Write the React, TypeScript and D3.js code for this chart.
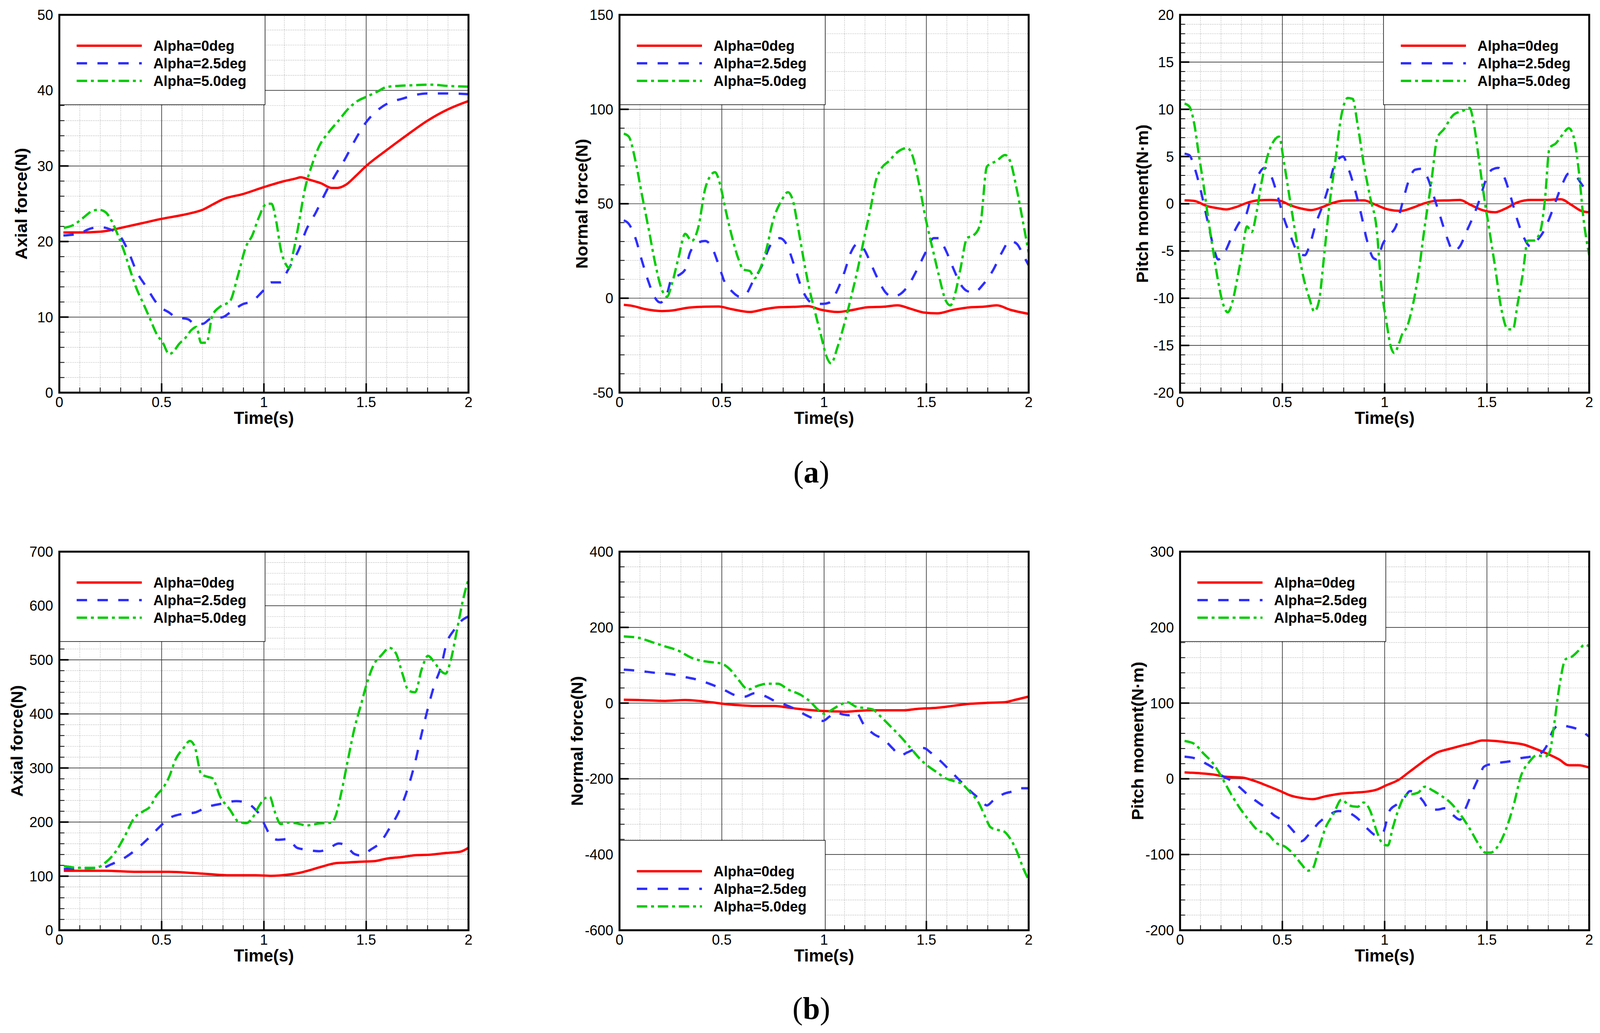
import React from "react";
import * as d3 from "d3";

type Pt = [number, number];

// ---------- shared labels / ticks ----------
const xTicks = [0, 0.5, 1, 1.5, 2];
const seriesNames = ["Alpha=0deg", "Alpha=2.5deg", "Alpha=5.0deg"];
const seriesColors = ["#ff0000", "#2e2eff", "#00cc00"];
const seriesDash = ["none", "27 27", "27 10 7.5 10"];

const axialTopTicks = [0, 10, 20, 30, 40, 50];
const normalTopTicks = [-50, 0, 50, 100, 150];
const pitchTopTicks = [-20, -15, -10, -5, 0, 5, 10, 15, 20];
const axialBotTicks = [0, 100, 200, 300, 400, 500, 600, 700];
const normalBotTicks = [-600, -400, -200, 0, 200, 400];
const pitchBotTicks = [-200, -100, 0, 100, 200, 300];

// ---------- (a) Axial force ----------
const axialTop0: Pt[] = [[0.02,21.2],[0.1,21.2],[0.2,21.3],[0.25,21.5],[0.3,21.8],[0.4,22.4],[0.5,23.0],[0.6,23.5],[0.65,23.8],[0.7,24.2],[0.75,24.9],[0.8,25.6],[0.9,26.3],[1.0,27.2],[1.1,28.0],[1.15,28.3],[1.18,28.5],[1.22,28.2],[1.28,27.7],[1.33,27.1],[1.36,27.1],[1.4,27.5],[1.45,28.7],[1.5,30.0],[1.6,32.1],[1.7,34.1],[1.8,36.0],[1.9,37.5],[2.0,38.6]];
const axialTop25: Pt[] = [[0.02,20.8],[0.1,21.1],[0.15,21.7],[0.2,21.9],[0.25,21.6],[0.3,20.6],[0.334,18.9],[0.38,15.9],[0.42,14.2],[0.49,11.4],[0.537,10.6],[0.568,10.0],[0.63,9.7],[0.662,9.1],[0.7,9.1],[0.74,9.8],[0.8,10.0],[0.834,10.6],[0.896,11.7],[0.943,12.1],[0.99,13.3],[1.037,14.6],[1.083,14.6],[1.115,16.1],[1.138,17.2],[1.17,18.9],[1.208,21.6],[1.255,23.9],[1.302,26.5],[1.349,28.8],[1.396,30.9],[1.443,33.3],[1.5,35.8],[1.552,37.3],[1.614,38.4],[1.677,38.9],[1.739,39.4],[1.802,39.6],[1.895,39.6],[2.0,39.5]];
const axialTop50: Pt[] = [[0.022,21.8],[0.07,22.2],[0.115,23.1],[0.162,24.05],[0.194,24.2],[0.225,23.9],[0.256,22.7],[0.287,20.8],[0.318,18.6],[0.35,15.9],[0.38,13.6],[0.412,11.7],[0.443,9.8],[0.475,7.8],[0.506,6.6],[0.537,5.1],[0.56,5.5],[0.584,6.4],[0.615,7.2],[0.646,8.3],[0.67,8.7],[0.693,6.6],[0.72,6.6],[0.748,10.2],[0.787,11.4],[0.834,12.1],[0.873,15.5],[0.912,19.3],[0.943,20.8],[0.974,23.1],[1.013,25.0],[1.037,25.0],[1.06,22.7],[1.083,18.9],[1.107,17.0],[1.123,16.5],[1.146,18.9],[1.17,22.3],[1.2,26.9],[1.232,29.9],[1.27,32.6],[1.318,34.5],[1.365,36.0],[1.41,37.5],[1.458,38.6],[1.505,39.2],[1.552,39.8],[1.6,40.45],[1.66,40.6],[1.74,40.7],[1.817,40.76],[1.895,40.6],[2.0,40.5]];

// ---------- (a) Normal force ----------
const normalTop0: Pt[] = [[0.021,-3.5],[0.06,-4],[0.126,-5.8],[0.207,-6.8],[0.256,-6.5],[0.337,-5],[0.418,-4.5],[0.483,-4.4],[0.548,-5.8],[0.637,-7.3],[0.71,-5.8],[0.775,-4.8],[0.872,-4.5],[0.92,-4.2],[0.985,-6.1],[1.066,-7.3],[1.131,-6.4],[1.212,-4.8],[1.293,-4.5],[1.358,-3.8],[1.423,-5.6],[1.488,-7.6],[1.553,-8.0],[1.634,-6.1],[1.715,-4.8],[1.78,-4.5],[1.844,-3.8],[1.909,-6.1],[2.0,-8.3]];
const normalTop25: Pt[] = [[0.021,41.2],[0.045,39.4],[0.078,31.8],[0.11,19.7],[0.143,8.3],[0.167,1.5],[0.2,-2.3],[0.232,2.3],[0.256,10.6],[0.288,12.1],[0.321,15.2],[0.345,24.2],[0.386,29.5],[0.418,30.3],[0.45,27.3],[0.483,18.2],[0.515,8.3],[0.548,3.8],[0.588,0.8],[0.613,1.5],[0.653,9],[0.694,16.7],[0.742,28.8],[0.783,31.8],[0.815,28.8],[0.856,16.7],[0.888,6],[0.921,-0.8],[0.953,-3],[0.994,-3],[1.026,-2.3],[1.066,4.5],[1.099,13.6],[1.131,24.2],[1.164,28.8],[1.196,25.8],[1.229,18.2],[1.261,10.6],[1.301,3],[1.334,0.8],[1.374,2.3],[1.407,6],[1.455,15.2],[1.496,24.2],[1.536,31.8],[1.561,31.8],[1.593,25.8],[1.634,15.2],[1.666,7.6],[1.699,3.8],[1.731,3],[1.78,7.6],[1.828,15.2],[1.869,24.2],[1.909,30.3],[1.942,28.8],[1.974,22.7],[2.0,17.4]];
const normalTop50: Pt[] = [[0.021,87.1],[0.045,85.6],[0.078,72.7],[0.11,54.5],[0.143,36.4],[0.175,18.2],[0.207,4.5],[0.232,0.8],[0.256,7.6],[0.288,21.2],[0.321,34.1],[0.353,30.3],[0.386,37.9],[0.418,57.6],[0.442,64.4],[0.467,66.7],[0.491,60.6],[0.515,48.5],[0.548,33.3],[0.58,21.2],[0.605,15.2],[0.637,14.4],[0.661,10.6],[0.686,15.2],[0.718,25.8],[0.75,40.9],[0.791,51.5],[0.823,56.1],[0.848,51.5],[0.872,37.9],[0.904,18.2],[0.929,4.5],[0.953,-6.1],[0.985,-19.7],[1.01,-30.3],[1.034,-34.5],[1.066,-25.8],[1.099,-13.6],[1.131,0],[1.164,15.2],[1.196,31.8],[1.229,48.5],[1.253,62.1],[1.277,68.2],[1.318,72.7],[1.358,77.3],[1.407,79.5],[1.431,75.8],[1.464,60.6],[1.496,42.4],[1.528,27.3],[1.561,12.1],[1.593,-0.8],[1.617,-3.8],[1.642,3],[1.666,15.2],[1.699,31.8],[1.731,33.3],[1.764,39.4],[1.796,69.7],[1.844,72.7],[1.885,75.8],[1.909,72.7],[1.942,57.6],[1.974,39.4],[2.0,24.2]];

// ---------- (a) Pitch moment ----------
const pitchTop0: Pt[] = [[0.022,0.36],[0.069,0.3],[0.131,-0.24],[0.178,-0.45],[0.225,-0.6],[0.272,-0.36],[0.335,0.15],[0.382,0.36],[0.444,0.4],[0.491,0.3],[0.538,-0.15],[0.601,-0.55],[0.64,-0.67],[0.695,-0.36],[0.742,0.06],[0.804,0.33],[0.898,0.36],[0.945,0],[1.008,-0.55],[1.078,-0.76],[1.133,-0.45],[1.196,0.06],[1.258,0.33],[1.321,0.36],[1.368,0.4],[1.415,-0.06],[1.477,-0.67],[1.54,-0.9],[1.587,-0.55],[1.65,0.15],[1.712,0.4],[1.79,0.4],[1.861,0.48],[1.915,-0.15],[1.962,-0.76],[2.0,-0.9]];
const pitchTop25: Pt[] = [[0.022,5.3],[0.045,5.15],[0.069,3.94],[0.1,1.5],[0.131,-1.5],[0.163,-4.5],[0.186,-5.9],[0.218,-5.15],[0.257,-3.3],[0.296,-1.8],[0.319,-1.36],[0.35,0.9],[0.382,3.0],[0.413,3.8],[0.444,3.0],[0.476,0.9],[0.507,-1.5],[0.538,-3.3],[0.577,-5.15],[0.609,-5.45],[0.632,-4.5],[0.664,-2.1],[0.695,-0.3],[0.726,1.8],[0.757,4.2],[0.797,5.0],[0.82,3.9],[0.851,1.8],[0.883,-0.9],[0.914,-3.9],[0.945,-5.75],[0.961,-5.9],[0.992,-4.2],[1.023,-3.3],[1.055,-2.4],[1.086,0],[1.117,2.4],[1.149,3.6],[1.18,3.7],[1.211,2.7],[1.243,0.6],[1.274,-1.5],[1.305,-3.6],[1.336,-5.0],[1.368,-4.5],[1.399,-3.0],[1.43,-1.5],[1.462,0.3],[1.493,2.4],[1.524,3.6],[1.556,3.8],[1.587,2.7],[1.618,0.6],[1.65,-1.8],[1.681,-3.6],[1.712,-4.5],[1.744,-3.9],[1.775,-3.0],[1.806,-1.5],[1.837,0.3],[1.869,2.1],[1.9,3.2],[1.931,3.0],[1.962,2.1],[2.0,0.9]];
const pitchTop50: Pt[] = [[0.022,10.6],[0.045,10.3],[0.069,8.5],[0.092,5.15],[0.116,1.8],[0.139,-1.8],[0.163,-5.15],[0.186,-8.2],[0.21,-10.6],[0.233,-11.5],[0.257,-10.3],[0.28,-7.9],[0.304,-5.15],[0.327,-2.4],[0.35,-3.0],[0.374,-0.9],[0.397,2.1],[0.429,5.15],[0.46,6.7],[0.484,7.1],[0.507,4.5],[0.538,0.3],[0.57,-3.9],[0.601,-7.6],[0.632,-10],[0.656,-11.4],[0.679,-10.3],[0.703,-5.75],[0.726,-0.9],[0.757,4.2],[0.789,9.4],[0.82,11.2],[0.844,11.1],[0.867,8.5],[0.898,4.2],[0.93,0.6],[0.961,-2.7],[0.984,-8.8],[1.008,-12.4],[1.031,-15.2],[1.047,-15.8],[1.07,-14.8],[1.086,-13.8],[1.11,-13],[1.133,-11.2],[1.164,-7.6],[1.196,-2.4],[1.227,2.1],[1.258,7.0],[1.29,7.9],[1.336,9.4],[1.383,9.85],[1.415,10.15],[1.438,8.2],[1.462,4.5],[1.485,0.9],[1.509,-2.4],[1.54,-6.7],[1.571,-11.2],[1.603,-13.3],[1.627,-13.3],[1.65,-10.6],[1.674,-7.6],[1.7,-3.9],[1.73,-3.9],[1.76,-3.0],[1.783,0.3],[1.806,5.9],[1.837,6.4],[1.869,7.3],[1.9,8.0],[1.925,7.0],[1.95,3.3],[1.97,-1.2],[2.0,-5.45]];

// ---------- (b) Axial force ----------
const axialBot0: Pt[] = [[0.022,110],[0.1,110],[0.225,110],[0.365,108],[0.537,108],[0.646,106],[0.724,104],[0.834,101.7],[0.959,101.7],[1.037,100.6],[1.115,102.7],[1.177,106.4],[1.24,112.8],[1.302,119.7],[1.349,123.9],[1.396,125],[1.458,126.5],[1.536,127.6],[1.6,132.4],[1.677,135.5],[1.739,138.7],[1.817,139.8],[1.895,143],[1.958,145],[2.0,152.5]];
const axialBot25: Pt[] = [[0.022,113.3],[0.1,114.4],[0.209,115.4],[0.256,122.3],[0.303,130.3],[0.365,146.1],[0.428,167.3],[0.49,191.1],[0.537,207],[0.6,215],[0.662,217.6],[0.724,228.2],[0.787,233.5],[0.865,238.8],[0.912,236.2],[0.959,222.9],[0.982,212.3],[1.005,193.8],[1.037,172.6],[1.068,167.3],[1.115,168.4],[1.162,152.5],[1.208,148.8],[1.271,146.1],[1.318,151.4],[1.365,160.4],[1.396,157.8],[1.443,140.8],[1.474,138.2],[1.521,148.8],[1.568,162],[1.614,188.5],[1.661,220.3],[1.708,268],[1.739,310.3],[1.771,363.2],[1.802,410.9],[1.833,453.2],[1.864,485],[1.895,532.7],[1.927,553.8],[1.966,572.4],[2.0,580.3]];
const axialBot50: Pt[] = [[0.022,118.6],[0.1,115.4],[0.178,115.4],[0.225,125],[0.272,143.5],[0.318,172.6],[0.365,207],[0.412,220.3],[0.443,228.2],[0.475,249.4],[0.506,262.6],[0.537,283.8],[0.568,315.6],[0.607,336.8],[0.638,350],[0.662,339.4],[0.693,289.1],[0.724,283.8],[0.748,281.2],[0.787,246.7],[0.834,222.9],[0.873,201.7],[0.912,198],[0.943,207],[0.974,228.2],[1.005,244.1],[1.029,246.7],[1.052,220.3],[1.083,196.4],[1.115,199.1],[1.162,197.5],[1.208,193.8],[1.271,197.5],[1.333,199.1],[1.349,209.7],[1.38,257.3],[1.411,315.6],[1.443,373.8],[1.474,416.2],[1.505,458.5],[1.536,490.3],[1.575,508.8],[1.614,522.1],[1.646,511.5],[1.677,474.4],[1.708,442.7],[1.739,440],[1.771,482.4],[1.802,507.3],[1.833,495.6],[1.864,479.7],[1.888,474.4],[1.911,495.6],[1.943,553.8],[1.974,612.1],[2.0,649.2]];

// ---------- (b) Normal force ----------
const normalBot0: Pt[] = [[0.021,8.9],[0.094,8.2],[0.224,5.9],[0.321,8.2],[0.386,5.9],[0.45,2.1],[0.515,-2.4],[0.58,-5.4],[0.661,-7.7],[0.758,-7.7],[0.84,-13],[0.904,-16.8],[0.985,-20.6],[1.066,-22.1],[1.107,-22.8],[1.164,-20.6],[1.229,-19.1],[1.31,-19.1],[1.39,-19.1],[1.455,-15.3],[1.553,-12.3],[1.634,-7],[1.715,-1.7],[1.796,0.6],[1.877,2.1],[1.942,9.7],[2.0,17.2]];
const normalBot25: Pt[] = [[0.021,88.4],[0.094,85.3],[0.175,80],[0.256,76.2],[0.321,68.7],[0.386,61.1],[0.45,49],[0.515,33.9],[0.564,21],[0.613,17.2],[0.661,26.3],[0.71,18.8],[0.758,5.9],[0.807,-3.9],[0.856,-15.3],[0.904,-29.7],[0.953,-41.8],[0.994,-47],[1.026,-35.7],[1.058,-24.4],[1.09,-29.7],[1.123,-32],[1.155,-24.4],[1.196,-58.4],[1.245,-82.6],[1.293,-96.2],[1.334,-118.9],[1.374,-137.8],[1.407,-130.3],[1.439,-122.7],[1.488,-118.9],[1.52,-130.3],[1.569,-153],[1.618,-179.5],[1.666,-205.9],[1.715,-232.4],[1.764,-255.1],[1.796,-270.2],[1.828,-256.6],[1.877,-240],[1.926,-232.4],[1.958,-224.8],[2.0,-224.8]];
const normalBot50: Pt[] = [[0.021,176.1],[0.094,172.3],[0.159,161],[0.224,149.6],[0.288,138.3],[0.353,119.4],[0.402,111.8],[0.45,108],[0.499,104.3],[0.54,89.1],[0.58,62.6],[0.629,36.2],[0.677,46],[0.726,51.3],[0.775,51.3],[0.823,36.2],[0.888,21],[0.936,2.1],[0.969,-16.8],[1.002,-28.1],[1.034,-19.1],[1.075,-5.4],[1.115,2.1],[1.155,-9.2],[1.196,-13],[1.237,-16.8],[1.277,-35.7],[1.326,-62.2],[1.374,-88.7],[1.423,-118.9],[1.472,-149.2],[1.512,-168.1],[1.553,-183.2],[1.593,-198.4],[1.634,-205.9],[1.674,-213.5],[1.715,-236.2],[1.755,-262.7],[1.788,-300.5],[1.812,-327],[1.844,-334.5],[1.877,-338.3],[1.909,-357.2],[1.942,-391.3],[1.974,-436.7],[2.0,-466.9]];

// ---------- (b) Pitch moment ----------
const pitchBot0: Pt[] = [[0.022,8.4],[0.1,7.3],[0.163,5.7],[0.225,2.7],[0.304,1.6],[0.366,-3],[0.429,-9.5],[0.491,-16.3],[0.538,-21.9],[0.601,-25.6],[0.648,-26.9],[0.71,-23.1],[0.773,-20],[0.851,-18.2],[0.914,-16.9],[0.961,-14.3],[1.008,-8.6],[1.07,-1.1],[1.117,8.4],[1.164,17.9],[1.211,27.3],[1.258,34.9],[1.321,39.8],[1.383,44.3],[1.43,47.3],[1.477,50.7],[1.54,50],[1.603,48.1],[1.681,45.1],[1.728,40.5],[1.79,33.7],[1.853,25.5],[1.9,17.9],[1.947,17.9],[2.0,14.9]];
const pitchBot25: Pt[] = [[0.022,29.2],[0.069,27.3],[0.116,21.6],[0.163,14.1],[0.202,4.6],[0.241,-1.1],[0.288,-10.5],[0.335,-21.9],[0.382,-31.3],[0.421,-38.9],[0.46,-48.3],[0.507,-55.9],[0.554,-69.1],[0.593,-82.4],[0.632,-72.9],[0.679,-57.8],[0.726,-48.3],[0.773,-42.6],[0.82,-44.5],[0.867,-52.1],[0.914,-65.4],[0.961,-74.8],[0.992,-71],[1.023,-42.6],[1.063,-33.1],[1.094,-25.6],[1.125,-16.2],[1.156,-19.9],[1.188,-29.4],[1.219,-40.7],[1.258,-40.7],[1.297,-38.8],[1.336,-48.3],[1.368,-54],[1.399,-37],[1.43,-16.2],[1.462,2.7],[1.485,15.9],[1.524,19.8],[1.571,21.6],[1.618,23.5],[1.665,27.3],[1.712,29.2],[1.759,33],[1.79,42.4],[1.822,63.2],[1.853,70.8],[1.9,68.9],[1.947,65.1],[2.0,55.7]];
const pitchBot50: Pt[] = [[0.022,50],[0.069,46.2],[0.116,33],[0.163,19.8],[0.21,-1.1],[0.249,-20],[0.288,-37],[0.335,-54],[0.382,-68.4],[0.429,-72.9],[0.468,-84.3],[0.515,-89.9],[0.554,-99.4],[0.593,-112.6],[0.624,-121.3],[0.648,-118.4],[0.679,-91.8],[0.71,-65.4],[0.75,-46.4],[0.789,-27.5],[0.828,-35.2],[0.867,-37],[0.898,-31.3],[0.93,-42.6],[0.961,-69.1],[0.992,-86.2],[1.016,-88],[1.039,-65.4],[1.07,-38.9],[1.102,-21.9],[1.141,-20],[1.164,-18.2],[1.196,-10.5],[1.235,-15.4],[1.274,-21.9],[1.321,-31.3],[1.368,-46.4],[1.415,-65.4],[1.455,-84.3],[1.493,-97.5],[1.517,-97.5],[1.556,-88],[1.595,-65.4],[1.634,-31.3],[1.665,2.7],[1.705,21.6],[1.744,31.1],[1.783,29.2],[1.806,34.9],[1.83,74.6],[1.853,120],[1.884,157.7],[1.916,161.5],[1.947,169.1],[1.978,177.4],[2.0,174.7]];

// ---------- layout ----------
const VW = 4153;
const VH = 2644;
const PW = 1062;
const LEG_W = 534;
const LEG_H = 230;
const FONT = "'Liberation Sans', Arial, Helvetica, sans-serif";

type PanelCfg = {
  id: string;
  left: number;
  top: number;
  height: number;
  yTitle: string;
  yTicks: number[];
  yMinorStep: number;
  series: Pt[][];
  legend: "tl" | "tr" | "bl";
  titleOff: number;
};

const panels: PanelCfg[] = [
  { id: "p1", left: 154, top: 38, height: 967, yTitle: "Axial force(N)", yTicks: axialTopTicks, yMinorStep: 2, series: [axialTop0, axialTop25, axialTop50], legend: "tl", titleOff: 84 },
  { id: "p2", left: 1608, top: 38, height: 967, yTitle: "Normal force(N)", yTicks: normalTopTicks, yMinorStep: 10, series: [normalTop0, normalTop25, normalTop50], legend: "tl", titleOff: 83 },
  { id: "p3", left: 3063, top: 38, height: 967, yTitle: "Pitch moment(N\u00B7m)", yTicks: pitchTopTicks, yMinorStep: 1, series: [pitchTop0, pitchTop25, pitchTop50], legend: "tr", titleOff: 83 },
  { id: "p4", left: 154, top: 1412, height: 969, yTitle: "Axial force(N)", yTicks: axialBotTicks, yMinorStep: 20, series: [axialBot0, axialBot25, axialBot50], legend: "tl", titleOff: 95 },
  { id: "p5", left: 1608, top: 1412, height: 969, yTitle: "Normal force(N)", yTicks: normalBotTicks, yMinorStep: 40, series: [normalBot0, normalBot25, normalBot50], legend: "bl", titleOff: 95 },
  { id: "p6", left: 3063, top: 1412, height: 969, yTitle: "Pitch moment(N\u00B7m)", yTicks: pitchBotTicks, yMinorStep: 20, series: [pitchBot0, pitchBot25, pitchBot50], legend: "tl", titleOff: 95 },
];

function isMajor(v: number, ticks: number[]) {
  return ticks.some((t) => Math.abs(t - v) < 1e-6);
}

function Panel({ p }: { p: PanelCfg }) {
  const L = p.left;
  const T = p.top;
  const R = L + PW;
  const B = T + p.height;
  const yMin = p.yTicks[0];
  const yMax = p.yTicks[p.yTicks.length - 1];
  const x = d3.scaleLinear().domain([0, 2]).range([L, R]);
  const y = d3.scaleLinear().domain([yMin, yMax]).range([B, T]);
  const xMinor = d3.range(0, 2 + 1e-9, 0.1).filter((v) => !isMajor(v, xTicks));
  const yMinor = d3.range(yMin, yMax + 1e-9, p.yMinorStep).filter((v) => !isMajor(v, p.yTicks));
  const line = d3
    .line<Pt>()
    .x((d) => x(d[0]))
    .y((d) => y(d[1]))
    .curve(d3.curveMonotoneX);

  const lx = p.legend === "tr" ? R - LEG_W : L;
  const ly = p.legend === "bl" ? B - LEG_H : T;
  const rowY = [79, 124, 169];

  return (
    <g>
      <defs>
        <clipPath id={"clip-" + p.id}>
          <rect x={L} y={T} width={PW} height={p.height} />
        </clipPath>
      </defs>
      <rect x={L} y={T} width={PW} height={p.height} fill="#ffffff" />
      {/* minor grid */}
      <g stroke="#8a8a8a" strokeWidth={1.4} strokeDasharray="1.4 3.2" fill="none">
        {xMinor.map((v, i) => (
          <line key={"xm" + i} x1={x(v)} x2={x(v)} y1={T} y2={B} />
        ))}
        {yMinor.map((v, i) => (
          <line key={"ym" + i} x1={L} x2={R} y1={y(v)} y2={y(v)} />
        ))}
      </g>
      {/* major grid */}
      <g stroke="#333333" strokeWidth={1.7} fill="none">
        {xTicks.map((v, i) => (
          <line key={"xg" + i} x1={x(v)} x2={x(v)} y1={T} y2={B} />
        ))}
        {p.yTicks.map((v, i) => (
          <line key={"yg" + i} x1={L} x2={R} y1={y(v)} y2={y(v)} />
        ))}
      </g>
      {/* ticks (inward, left and bottom) */}
      <g stroke="#000" fill="none">
        {xMinor.map((v, i) => (
          <line key={"xt" + i} x1={x(v)} x2={x(v)} y1={B} y2={B - 13} strokeWidth={2} />
        ))}
        {xTicks.map((v, i) => (
          <line key={"xT" + i} x1={x(v)} x2={x(v)} y1={B} y2={B - 24} strokeWidth={4} />
        ))}
        {yMinor.map((v, i) => (
          <line key={"yt" + i} x1={L} x2={L + 13} y1={y(v)} y2={y(v)} strokeWidth={2} />
        ))}
        {p.yTicks.map((v, i) => (
          <line key={"yT" + i} x1={L} x2={L + 24} y1={y(v)} y2={y(v)} strokeWidth={4} />
        ))}
      </g>
      {/* legend */}
      <g>
        <rect x={lx} y={ly} width={LEG_W} height={LEG_H} fill="#ffffff" stroke="#000" strokeWidth={1.5} />
        {seriesNames.map((name, i) => (
          <g key={"lg" + i}>
            <line
              x1={lx + 45}
              x2={lx + 214}
              y1={ly + rowY[i]}
              y2={ly + rowY[i]}
              stroke={seriesColors[i]}
              strokeWidth={6}
              strokeDasharray={seriesDash[i]}
            />
            <text x={lx + 244} y={ly + rowY[i] + 13} fontFamily={FONT} fontWeight="bold" fontSize={37} fill="#000">
              {name}
            </text>
          </g>
        ))}
      </g>
      {/* series */}
      <g clipPath={`url(#clip-${p.id})`} fill="none">
        {p.series.map((s, i) => (
          <path
            key={"s" + i}
            d={line(s) || ""}
            stroke={seriesColors[i]}
            strokeWidth={6}
            strokeDasharray={seriesDash[i]}
            strokeLinejoin="round"
          />
        ))}
      </g>
      {/* frame */}
      <rect x={L} y={T} width={PW} height={p.height} fill="none" stroke="#000" strokeWidth={5} />
      {/* tick labels */}
      <g fontFamily={FONT} fontSize={37} fill="#000">
        {xTicks.map((v, i) => (
          <text key={"xl" + i} x={x(v)} y={B + 37} textAnchor="middle">
            {String(v)}
          </text>
        ))}
        {p.yTicks.map((v, i) => (
          <text key={"yl" + i} x={L - 16} y={y(v) + 13} textAnchor="end">
            {String(v)}
          </text>
        ))}
      </g>
      {/* axis titles */}
      <text x={(L + R) / 2} y={B + 80} textAnchor="middle" fontFamily={FONT} fontWeight="bold" fontSize={44} fill="#000">
        Time(s)
      </text>
      <text
        transform={`translate(${L - p.titleOff},${(T + B) / 2}) rotate(-90)`}
        textAnchor="middle"
        fontFamily={FONT}
        fontWeight="bold"
        fontSize={44}
        fill="#000"
      >
        {p.yTitle}
      </text>
    </g>
  );
}

const captions = [
  { label: "a", x: 2106, y: 1235 },
  { label: "b", x: 2106, y: 2608 },
];

export default function App() {
  return (
    <div style={{ position: "fixed", left: 0, top: 0, width: "100vw", height: "100vh", background: "#fff", overflow: "hidden" }}>
      <svg
        viewBox={`0 0 ${VW} ${VH}`}
        preserveAspectRatio="none"
        style={{ display: "block", width: "100vw", height: "100vh" }}
      >
        <rect x={0} y={0} width={VW} height={VH} fill="#ffffff" />
        {panels.map((p) => (
          <Panel key={p.id} p={p} />
        ))}
        {captions.map((c) => (
          <text
            key={c.label}
            x={c.x}
            y={c.y}
            textAnchor="middle"
            fontFamily="'Liberation Serif', 'Times New Roman', serif"
            fontSize={80}
            fill="#000"
          >
            (<tspan fontWeight="bold">{c.label}</tspan>)
          </text>
        ))}
      </svg>
    </div>
  );
}
